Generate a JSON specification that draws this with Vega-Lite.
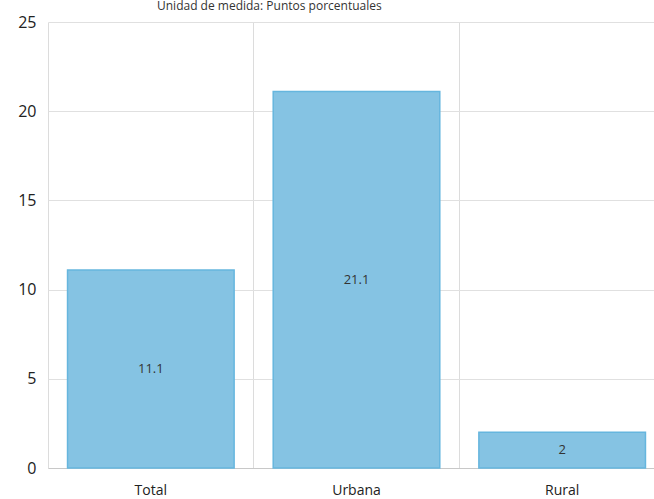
{
  "$schema": "https://vega.github.io/schema/vega-lite/v6.json",
  "width": 617,
  "height": 446,
  "autosize": {"type": "none"},
  "padding": {"left": 48, "top": 22, "right": 0, "bottom": 31},
  "background": "white",
  "title": {
    "text": "Unidad de medida: Puntos porcentuales",
    "anchor": "start",
    "frame": "group",
    "dx": 109,
    "offset": -8,
    "baseline": "alphabetic",
    "fontSize": 12,
    "fontWeight": "normal",
    "font": "Open Sans",
    "color": "#333"
  },
  "config": {
    "view": {"stroke": null},
    "font": "Open Sans"
  },
  "data": {
    "values": [
      {"zona": "Total", "valor": 11.1},
      {"zona": "Urbana", "valor": 21.1},
      {"zona": "Rural", "valor": 2}
    ]
  },
  "encoding": {
    "x": {
      "field": "zona",
      "type": "nominal",
      "sort": null,
      "scale": {"paddingInner": 0, "paddingOuter": 0},
      "axis": {
        "title": null,
        "labelAngle": 0,
        "grid": true,
        "gridColor": "#dcdcdc",
        "bandPosition": 0,
        "ticks": false,
        "domain": true,
        "domainColor": "#c8c8c8",
        "labelFontSize": 14,
        "labelColor": "#222",
        "labelPadding": 15
      }
    }
  },
  "layer": [
    {
      "mark": {
        "type": "bar",
        "width": {"band": 0.81},
        "fill": "#85c3e3",
        "stroke": "#66b6de",
        "strokeWidth": 1.5
      },
      "encoding": {
        "y": {
          "field": "valor",
          "type": "quantitative",
          "scale": {"domain": [0, 25], "nice": false},
          "axis": {
            "title": null,
            "values": [0, 5, 10, 15, 20, 25],
            "grid": true,
            "gridColor": "#e0e0e0",
            "ticks": false,
            "domain": false,
            "labelFontSize": 16,
            "labelColor": "#222",
            "labelPadding": 12
          }
        }
      }
    },
    {
      "transform": [{"calculate": "datum.valor / 2", "as": "mitad"}],
      "mark": {
        "type": "text",
        "fontSize": 13,
        "color": "#333",
        "baseline": "middle"
      },
      "encoding": {
        "y": {"field": "mitad", "type": "quantitative"},
        "text": {"field": "valor", "type": "quantitative"}
      }
    }
  ]
}
